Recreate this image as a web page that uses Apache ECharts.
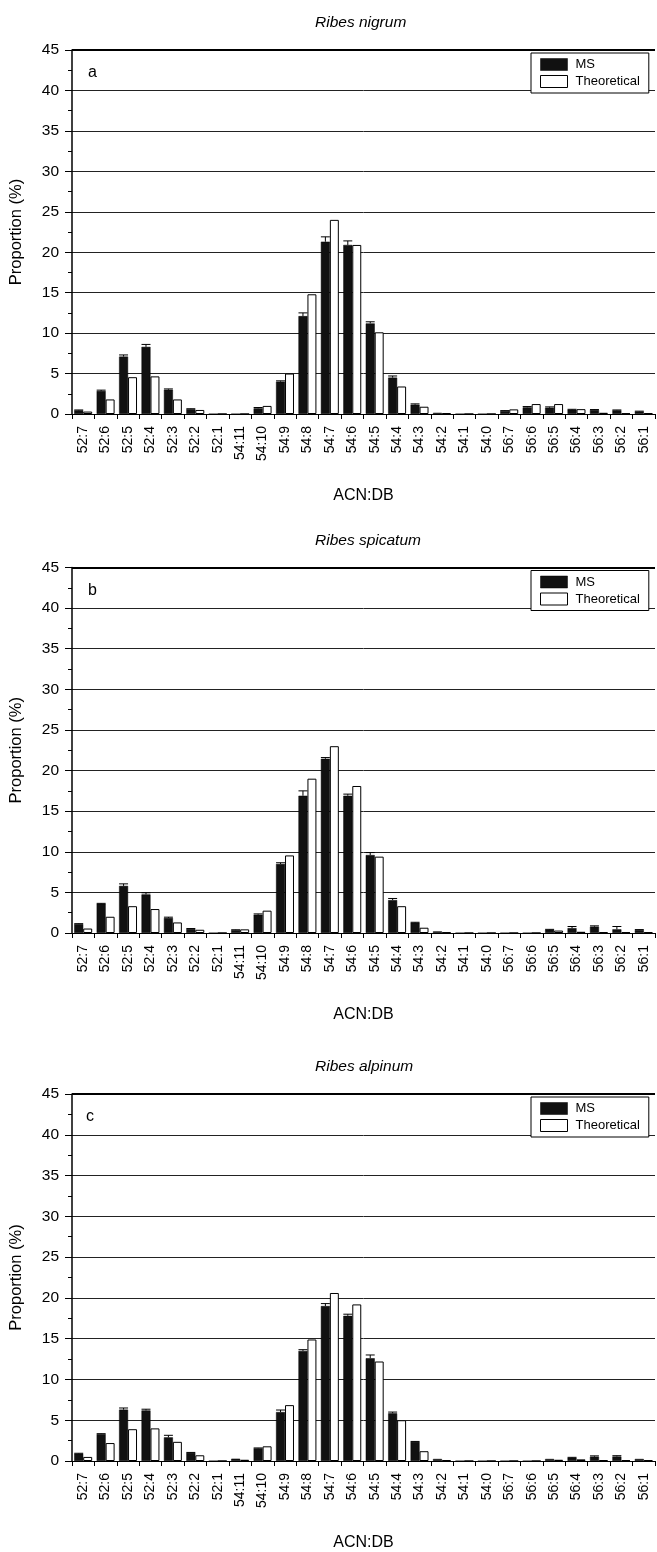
<!DOCTYPE html>
<html>
<head>
<meta charset="utf-8">
<script src="https://cdn.jsdelivr.net/npm/echarts@6/dist/echarts.min.js"></script>
<style>
html,body{margin:0;padding:0;background:#fff;}
#chart{width:657px;height:1552px;}
</style>
</head>
<body>
<div id="chart"></div>
<script>
const categories = ['52:7','52:6','52:5','52:4','52:3','52:2','52:1','54:11','54:10','54:9','54:8','54:7','54:6','54:5','54:4','54:3','54:2','54:1','54:0','56:7','56:6','56:5','56:4','56:3','56:2','56:1'];
const yTicks = [0, 45, 5];

const speciesTitles = ['Ribes nigrum', 'Ribes spicatum', 'Ribes alpinum'];
const panelLetters = ['a', 'b', 'c'];

// Ribes nigrum
const msA  = [0.45, 2.85, 7.1, 8.3, 3.0, 0.6, 0, 0, 0.7, 4.0, 12.1, 21.3, 20.9, 11.2, 4.5, 1.15, 0.15, 0, 0, 0.37, 0.82, 0.78, 0.53, 0.5, 0.45, 0.3];
const thA  = [0.3, 1.8, 4.55, 4.65, 1.8, 0.5, 0, 0, 1.0, 5.0, 14.8, 24.0, 20.9, 10.1, 3.4, 0.9, 0.1, 0, 0, 0.57, 1.23, 1.23, 0.6, 0.15, 0.08, 0.1];
const errA = [0.05, 0.1, 0.2, 0.3, 0.1, 0.05, 0, 0, 0.1, 0.1, 0.4, 0.6, 0.5, 0.2, 0.2, 0.1, 0, 0, 0, 0.05, 0.1, 0.1, 0.05, 0.05, 0.05, 0.05];

// Ribes spicatum
const msB  = [1.1, 3.6, 5.8, 4.75, 1.85, 0.5, 0, 0.35, 2.25, 8.5, 16.9, 21.45, 16.9, 9.6, 4.05, 1.27, 0.2, 0, 0, 0, 0, 0.4, 0.6, 0.78, 0.45, 0.37];
const thB  = [0.55, 2.0, 3.3, 2.95, 1.3, 0.4, 0, 0.45, 2.75, 9.55, 19.0, 23.0, 18.1, 9.4, 3.3, 0.65, 0.08, 0, 0, 0, 0, 0.3, 0.15, 0.1, 0.1, 0.1];
const errB = [0.05, 0.05, 0.25, 0.2, 0.1, 0.05, 0, 0.05, 0.1, 0.15, 0.6, 0.15, 0.2, 0.3, 0.2, 0.05, 0, 0, 0, 0, 0, 0.05, 0.2, 0.1, 0.35, 0.05];

// Ribes alpinum
const msC  = [0.9, 3.3, 6.3, 6.2, 2.9, 1.0, 0, 0.28, 1.55, 6.0, 13.5, 19.0, 17.8, 12.6, 5.85, 2.35, 0.25, 0, 0, 0, 0, 0.25, 0.4, 0.53, 0.55, 0.25];
const thC  = [0.5, 2.2, 3.9, 4.0, 2.35, 0.7, 0, 0.15, 1.8, 6.85, 14.9, 20.6, 19.2, 12.2, 5.0, 1.2, 0.1, 0, 0, 0, 0, 0.15, 0.2, 0.1, 0.1, 0.1];
const errC = [0.05, 0.05, 0.2, 0.15, 0.25, 0.05, 0, 0, 0.05, 0.25, 0.15, 0.3, 0.2, 0.4, 0.15, 0.05, 0, 0, 0, 0, 0, 0, 0.05, 0.1, 0.1, 0];

const panels = [
  {ms: msA, th: thA, err: errA},
  {ms: msB, th: thB, err: errB},
  {ms: msC, th: thC, err: errC}
];

const FONT = "'Liberation Sans', Arial, Helvetica, sans-serif";
const layout = [
  {left: 69, top: 50, height: 364},
  {left: 69, top: 567.5, height: 365.5},
  {left: 67, top: 1094, height: 367}
];

function errRender(params, api) {
  const idx = api.value(0), val = api.value(1), err = api.value(2);
  if (!(err > 0)) return;
  const band = api.size([1, 0])[0];
  const bw = band * 0.8 / 2;
  const base = api.coord([idx, val]);
  const cx = base[0] - bw / 2;
  const y1 = api.coord([idx, val + err])[1];
  return {
    type: 'group',
    children: [
      {type: 'line', shape: {x1: cx, y1: base[1], x2: cx, y2: y1}, style: {stroke: '#000', lineWidth: 1}},
      {type: 'line', shape: {x1: cx - bw / 2, y1: y1, x2: cx + bw / 2, y2: y1}, style: {stroke: '#000', lineWidth: 1}}
    ]
  };
}

const grid = [], xAxis = [], yAxis = [], series = [], legend = [], title = [];
panels.forEach((p, i) => {
  const L = layout[i];
  grid.push({left: L.left, right: 2, top: L.top, height: L.height});
  xAxis.push({
    type: 'category', gridIndex: i, data: categories,
    name: 'ACN:DB', nameLocation: 'middle', nameGap: 74,
    nameTextStyle: {fontFamily: FONT, fontSize: 16, color: '#000'},
    axisLine: {lineStyle: {color: '#000', width: 1.2}},
    axisTick: {show: true, length: 5, lineStyle: {color: '#000'}},
    axisLabel: {rotate: 90, interval: 0, margin: 12, fontFamily: FONT, fontSize: 14, color: '#000'}
  });
  yAxis.push({
    type: 'value', gridIndex: i, min: yTicks[0], max: yTicks[1], interval: yTicks[2],
    name: 'Proportion (%)', nameLocation: 'middle', nameGap: 47,
    nameTextStyle: {fontFamily: FONT, fontSize: 16.5, color: '#000'},
    axisLine: {show: true, lineStyle: {color: '#000', width: 1.5}},
    axisTick: {show: true, length: 7, lineStyle: {color: '#000'}},
    minorTick: {show: true, splitNumber: 2, length: 4, lineStyle: {color: '#000'}},
    axisLabel: {margin: 13, fontFamily: FONT, fontSize: 15.5, color: '#000'},
    splitLine: {show: true, lineStyle: {color: '#222', width: 1}}
  });
  series.push({
    type: 'bar', name: 'MS', xAxisIndex: i, yAxisIndex: i, data: p.ms,
    barGap: '0%', barCategoryGap: '20%',
    itemStyle: {color: '#111', borderColor: '#000', borderWidth: 0.5}
  });
  series.push({
    type: 'bar', name: 'Theoretical', xAxisIndex: i, yAxisIndex: i, data: p.th,
    barGap: '0%', barCategoryGap: '20%',
    itemStyle: {color: '#fff', borderColor: '#000', borderWidth: 1},
    markLine: {
      silent: true, symbol: 'none', label: {show: false},
      lineStyle: {color: '#000', width: 2, type: 'solid'},
      data: [{yAxis: yTicks[1]}]
    }
  });
  series.push({
    type: 'custom', name: 'err' + i, xAxisIndex: i, yAxisIndex: i,
    renderItem: errRender, encode: {x: 0, y: 1}, z: 3,
    data: categories.map((c, k) => [k, p.ms[k], p.err[k]])
  });
  legend.push({
    orient: 'vertical', left: 531, top: L.top + 3,
    width: 116,
    data: [
      {name: 'MS', itemStyle: {color: '#111', borderColor: '#000', borderWidth: 0.5}},
      {name: 'Theoretical', itemStyle: {color: '#fff', borderColor: '#000', borderWidth: 1}}
    ],
    icon: 'rect', itemWidth: 27, itemHeight: 12, itemGap: 4,
    padding: [5, 9, 5, 9], borderColor: '#000', borderWidth: 1, borderRadius: 0,
    backgroundColor: '#fff', selectedMode: false,
    textStyle: {fontFamily: FONT, fontSize: 13, color: '#000', padding: [0, 0, 0, 3]}
  });
  title.push({
    text: speciesTitles[i], left: 310, top: L.top - 40,
    textStyle: {fontFamily: FONT, fontSize: 15.5, fontStyle: 'italic', fontWeight: 'normal', color: '#000'}
  });
  title.push({
    text: panelLetters[i], left: L.left + 14, top: L.top + 10,
    textStyle: {fontFamily: FONT, fontSize: 16, fontWeight: 'normal', color: '#000'}
  });
});

const chart = echarts.init(document.getElementById('chart'), null, {renderer: 'canvas'});
chart.setOption({
  backgroundColor: '#fff',
  animation: false,
  title: title, grid: grid, xAxis: xAxis, yAxis: yAxis, series: series, legend: legend
});
</script>
</body>
</html>
